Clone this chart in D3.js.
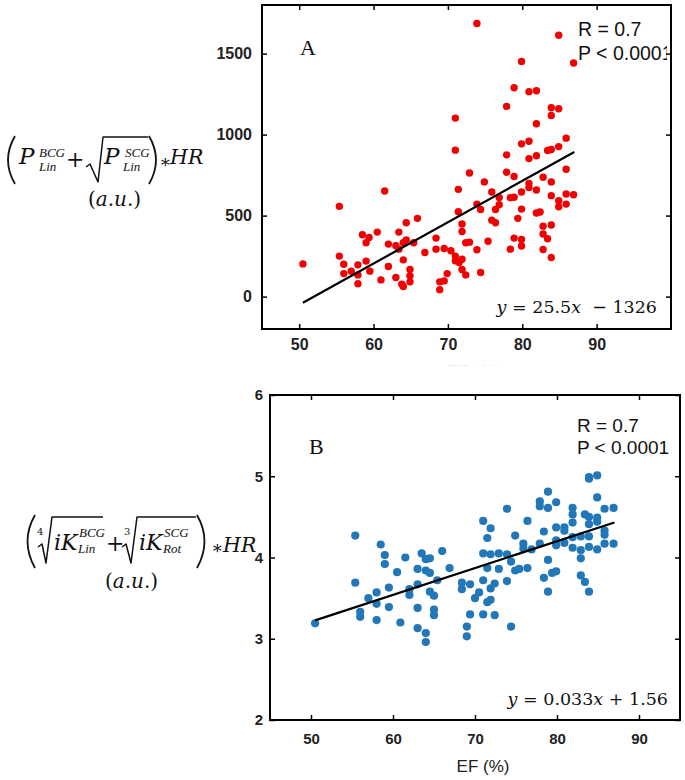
<!DOCTYPE html>
<html><head><meta charset="utf-8">
<script src="https://cdn.jsdelivr.net/npm/d3@7"></script>
<style>body{margin:0;background:#fff} svg{display:block}</style>
</head><body><svg id="c" width="685" height="780"></svg>
<script>
// ---------- data ----------
const efA = [50.5,55.4,55.4,56.0,56.0,57.0,57.9,57.9,57.9,58.5,
  59.0,59.0,59.4,59.5,60.5,61.0,61.5,62.0,62.0,63.0,
  63.0,63.4,63.4,64.0,64.0,63.8,64.4,64.4,64.9,64.9,
  64.9,65.4,65.9,64.0,66.9,68.4,68.4,68.9,69.5,68.9,
  69.5,69.9,70.4,71.0,71.0,71.0,71.0,71.4,71.4,71.5,
  71.9,71.9,71.9,71.9,72.4,72.4,72.9,72.9,73.9,73.9,
  73.9,74.4,74.4,74.9,75.4,75.9,75.9,76.4,76.4,76.9,
  76.9,77.9,77.9,77.9,78.4,78.4,78.9,78.9,78.9,78.9,
  79.4,79.9,79.9,79.9,79.9,79.9,79.9,80.9,80.9,80.9,
  80.9,80.9,81.9,81.9,81.9,81.9,81.9,82.4,82.8,82.8,
  82.8,82.8,83.4,83.4,83.9,83.9,83.9,83.9,83.9,83.9,
  83.9,84.9,84.9,84.9,84.9,84.9,85.9,85.9,85.9,85.9,
  86.9,86.9];
const valA = [202,557,250,200,142,157,196,134,80,382,
  332,219,365,157,398,103,652,324,186,314,
  118,398,293,227,62,76,456,349,167,128,
  91,332,483,332,272,361,293,43,297,91,
  97,142,283,1102,904,250,221,662,524,210,
  448,402,231,167,134,332,763,336,1686,571,
  289,538,149,708,342,646,472,456,538,567,
  611,1174,875,768,611,293,1289,741,613,361,
  483,1452,943,646,540,353,312,1265,959,852,
  699,673,1271,1067,869,658,516,522,737,435,
  386,291,357,902,1166,1118,908,708,623,442,
  241,1613,1160,926,592,555,978,786,633,571,
  1442,629];
const efB = [50.5,55.4,55.4,56.0,56.0,57.0,58.0,58.0,58.0,58.5,
  59.0,59.0,59.5,59.5,60.5,60.9,61.5,62.0,62.0,63.0,
  63.0,63.0,63.0,63.5,64.0,64.0,64.0,64.0,64.5,64.5,
  64.5,65.0,65.0,65.0,65.4,66.0,66.9,68.4,68.4,69.0,
  69.0,69.4,69.4,70.0,70.5,71.0,71.0,71.0,71.0,71.5,
  71.5,71.5,71.9,71.9,71.9,71.9,72.4,72.4,72.9,72.9,
  73.9,73.9,73.9,74.4,74.4,74.9,74.9,75.4,75.9,75.9,
  76.4,76.4,76.9,77.9,77.9,77.9,78.4,78.4,78.9,78.9,
  78.9,78.9,79.4,79.9,79.9,79.9,79.9,79.9,80.9,80.9,
  80.9,81.9,81.9,81.9,81.9,81.9,82.9,82.9,82.9,82.9,
  83.4,83.4,83.9,83.9,83.9,83.9,83.9,83.9,83.9,84.9,
  84.9,84.9,84.9,84.9,85.8,85.8,85.8,85.8,86.9,86.9];
const valB = [3.19,4.27,3.69,3.33,3.27,3.50,3.57,3.43,3.23,4.16,
  4.03,3.92,3.63,3.39,3.82,3.20,4.00,3.61,3.54,3.86,
  3.67,3.38,3.13,4.05,3.98,3.84,3.07,2.96,3.99,3.81,
  3.58,3.53,3.36,3.29,3.72,4.08,3.87,3.69,3.61,3.15,
  3.03,3.67,3.30,3.50,3.57,4.45,4.05,3.72,3.30,4.24,
  3.87,3.45,4.36,4.04,3.62,3.48,3.68,3.29,4.05,3.86,
  4.60,4.04,3.71,3.95,3.15,4.27,3.84,3.86,4.17,4.11,
  4.45,3.87,4.10,4.69,4.63,4.17,4.32,3.75,4.81,4.61,
  3.97,3.58,3.81,4.68,4.37,4.21,4.15,3.83,4.37,4.33,
  4.18,4.61,4.53,4.43,4.25,4.12,4.26,4.09,3.99,3.78,
  4.53,3.70,4.99,4.97,4.50,4.41,4.26,4.13,3.58,5.01,
  4.74,4.49,4.44,4.10,4.60,4.33,4.28,4.17,4.61,4.17];
const xTicksA = [50,60,70,80,90];
const yTicksA = [0,500,1000,1500];
const xTicksB = [50,60,70,80,90];
const yTicksB = [2,3,4,5,6];
const fitA = {slope:25.5, intercept:-1326, from:50.5, to:87};
const fitB = {slope:0.033, intercept:1.56, from:50.5, to:87};
const statsText = ["R = 0.7", "P < 0.0001"];
const eqA = ["y"," = 25.5","x","  − 1326"];
const eqB = ["y"," = 0.033","x"," + 1.56"];
const xLabel = "EF (%)";

// ---------- drawing ----------
const svg = d3.select("#c");
const SANS = "Liberation Sans, Arial, sans-serif";
const SERIF = "DejaVu Serif, serif";
const TIMES = "Liberation Serif, Times New Roman, serif";

function panel(o){
  const x = d3.scaleLinear().domain(o.xDom).range([o.l,o.r]);
  const y = d3.scaleLinear().domain(o.yDom).range([o.b,o.t]);
  const g = svg.append("g");
  const cid = "clip"+o.id;
  svg.append("clipPath").attr("id",cid).append("rect")
    .attr("x",o.l+1).attr("y",o.t+1).attr("width",o.r-o.l-2).attr("height",o.b-o.t-2);
  const tcid = "tclip"+o.id;
  svg.append("clipPath").attr("id",tcid).append("rect")
    .attr("x",o.l+1).attr("y",o.t+1).attr("width",o.textW).attr("height",o.b-o.t-2);
  const fmt = d3.format("d");
  const ax = (a)=>a.tickSizeInner(-5).tickSizeOuter(0).tickFormat(fmt);
  const styleAx = (sel,showLabels)=>{
    sel.select(".domain").remove();
    sel.selectAll("line").attr("stroke","#000").attr("stroke-width",1.5);
    sel.selectAll("text").attr("fill","#222").attr("font-family",SANS)
      .attr("font-weight","bold").attr("font-size",o.fs);
    if(!showLabels) sel.selectAll("text").remove();
  };
  g.append("g").attr("transform",`translate(0,${o.b})`)
    .call(ax(d3.axisBottom(x).tickValues(o.xTicks)).tickPadding(o.xPad))
    .call(s=>styleAx(s,true));
  g.append("g").attr("transform",`translate(0,${o.t})`)
    .call(ax(d3.axisTop(x).tickValues(o.xTicks)))
    .call(s=>styleAx(s,false));
  g.append("g").attr("transform",`translate(${o.l},0)`)
    .call(ax(d3.axisLeft(y).tickValues(o.yTicks)).tickPadding(o.yPad))
    .call(s=>styleAx(s,true));
  g.append("g").attr("transform",`translate(${o.r},0)`)
    .call(ax(d3.axisRight(y).tickValues(o.yTicks)))
    .call(s=>styleAx(s,false));
  const pts = d3.zip(o.xs,o.ys);
  g.append("g").attr("clip-path",`url(#${cid})`).selectAll("circle").data(pts).join("circle")
    .attr("cx",d=>x(d[0])).attr("cy",d=>y(d[1])).attr("r",o.rad).attr("fill",o.color);
  const f = o.fit;
  g.append("line")
    .attr("x1",x(f.from)).attr("y1",y(f.slope*f.from+f.intercept))
    .attr("x2",x(f.to)).attr("y2",y(f.slope*f.to+f.intercept))
    .attr("stroke","#000").attr("stroke-width",2.2);
  g.append("rect").attr("x",o.l).attr("y",o.t).attr("width",o.r-o.l).attr("height",o.b-o.t)
    .attr("fill","none").attr("stroke","#000").attr("stroke-width",2);
  const tg = g.append("g").attr("clip-path",`url(#${tcid})`);
  tg.append("text").attr("x",o.letterX).attr("y",o.letterY).text(o.letter)
    .attr("font-family",TIMES).attr("font-size",22).attr("fill","#111");
  statsText.forEach((s,i)=>{
    tg.append("text").attr("x",o.statX).attr("y",o.statY[i]).text(s)
      .attr("font-family",SANS).attr("font-size",o.statFs).attr("fill","#111");
  });
  const et = tg.append("text").attr("x",o.eqX).attr("y",o.eqY).attr("text-anchor","end")
    .attr("font-family",SERIF).attr("font-size",17.5).attr("fill","#111");
  o.eq.forEach((s,i)=>{
    et.append("tspan").text(s).attr("font-style",(i%2===0)?"italic":"normal")
      .attr("xml:space","preserve");
  });
  return {x,y};
}

panel({id:"A", l:262,t:5,r:671,b:329, xDom:[45,100], yDom:[-200,1800],
  xTicks:xTicksA, yTicks:yTicksA, xs:efA, ys:valA, rad:3.7, color:"#f00000",
  fit:fitA, fs:16, xPad:10, yPad:10, statFs:19.5, textW:404,
  letter:"A", letterX:300, letterY:55, statX:578, statY:[36,60], eq:eqA, eqX:657, eqY:313});
panel({id:"B", l:270,t:395,r:680,b:720, xDom:[45,95], yDom:[2,6],
  xTicks:xTicksB, yTicks:yTicksB, xs:efB, ys:valB, rad:4.1, color:"#2277b8",
  fit:fitB, fs:15, xPad:13, yPad:7, statFs:19, textW:408,
  letter:"B", letterX:309, letterY:454, statX:577, statY:[432,454], eq:eqB, eqX:668, eqY:705});

svg.append("text").attr("x",483).attr("y",772).attr("text-anchor","middle")
  .attr("font-family",SANS).attr("font-size",17).attr("fill","#222").text(xLabel);
svg.append("clipPath").attr("id","fadeA").append("rect").attr("x",430).attr("y",362).attr("width",90).attr("height",4);
svg.append("text").attr("x",474).attr("y",377).attr("text-anchor","middle").attr("clip-path","url(#fadeA)")
  .attr("font-family",SANS).attr("font-size",17).attr("fill","#ececec").text(xLabel);

// ---------- y-axis formulas ----------
const F = svg.append("g").attr("fill","#111");
function t(x,y,s,size,italic,fam){
  return F.append("text").attr("x",x).attr("y",y).attr("font-size",size)
    .attr("font-family",fam||SERIF)
    .attr("font-style",italic?"italic":"normal").text(s);
}
function p(d,w){ F.append("path").attr("d",d).attr("fill","none").attr("stroke","#111").attr("stroke-width",w||1.5).attr("stroke-linejoin","round"); }
function au(x,y){
  const a = t(x,y,"",20,false);
  a.append("tspan").text("(");a.append("tspan").text("a").attr("font-style","italic");
  a.append("tspan").text(".");a.append("tspan").text("u").attr("font-style","italic");
  a.append("tspan").text(".)");
}
// formula A
p("M15,136 Q1,160 15,184",1.8);
t(19,164,"P",23,true); t(39,157,"BCG",13,true,TIMES); t(39,171,"Lin",13,true,TIMES);
t(66,167,"+",22,false);
p("M86,167 L90,164 L98,182 L103,137 L148,137",1.5);
t(104,164,"P",23,true); t(125,157,"SCG",13,true,TIMES); t(123,171,"Lin",13,true,TIMES);
p("M149,136 Q163,160 149,184",1.8);
t(159,168,"∗",18,false); t(170,164,"HR",20.5,true);
au(88,206);
// formula B
p("M35,515 Q20,541 35,568",1.8);
t(37,535,"4",10,false);
p("M38,547 L42,544 L46,563 L52,517 L103,517",1.5);
t(54,550,"iK",22,true); t(79,537,"BCG",13,true,TIMES); t(78,553,"Lin",13,true,TIMES);
t(106,551,"+",22,false);
t(124,535,"3",10,false);
p("M122,547 L126,544 L131,563 L137,517 L196,517",1.5);
t(139,550,"iK",22,true); t(164,537,"SCG",13,true,TIMES); t(163,553,"Rot",13,true,TIMES);
p("M197,515 Q212,541 197,568",1.8);
t(211,554,"∗",18,false); t(223,552,"HR",20.5,true);
au(105,588);
</script></body></html>
